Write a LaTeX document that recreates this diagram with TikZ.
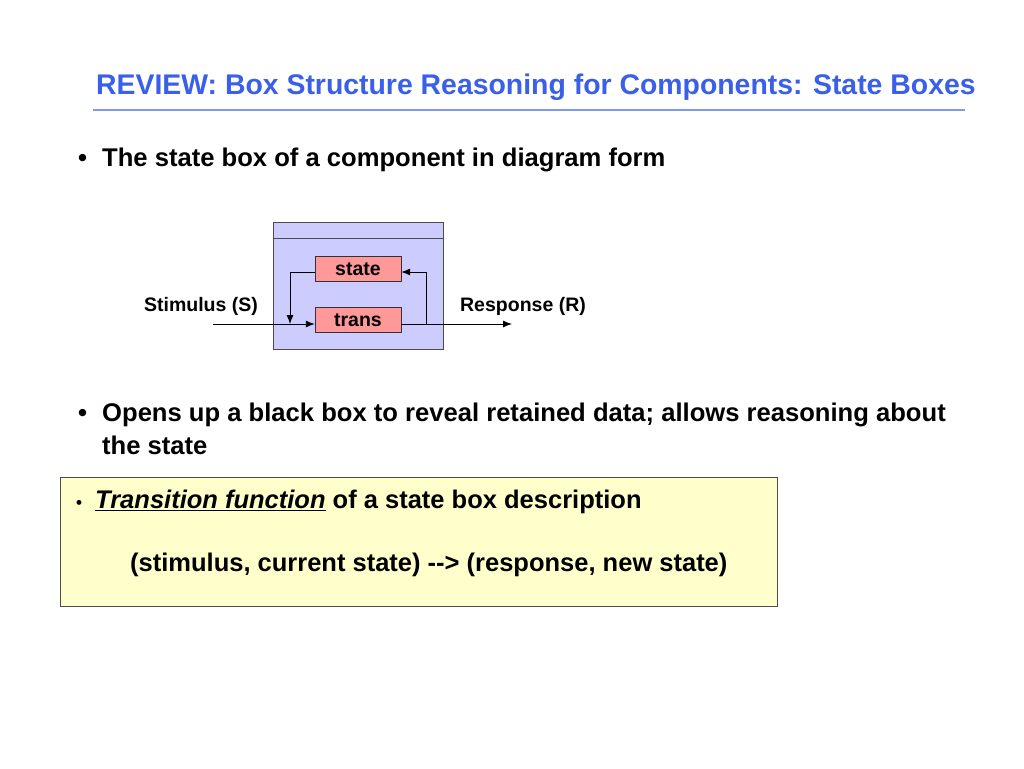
\documentclass[tikz,border=0pt]{standalone}
\usepackage{fontspec}
\setmainfont{Liberation Sans}
\usepackage{tikz}
\usetikzlibrary{positioning,arrows.meta}

\definecolor{titleblue}{HTML}{3A5FE8}
\definecolor{ruleblue}{HTML}{7F9BF0}
\definecolor{boxlav}{HTML}{CCCCFF}
\definecolor{boxred}{HTML}{FF9999}
\definecolor{noteyel}{HTML}{FFFFCC}

\begin{document}
\begin{tikzpicture}[x=1pt,y=-1pt,
	redbox/.style={draw=black!80, fill=boxred, minimum width=86pt, minimum height=25pt, inner sep=0pt, font=\bfseries\fontsize{19.5}{22}\selectfont},
	lbl/.style={font=\bfseries\fontsize{19.5}{22}\selectfont},
	bullet/.style={anchor=west, font=\bfseries\fontsize{25.6}{30}\selectfont, align=left},
	flow/.style={line width=0.9pt, -{Latex[length=9pt,width=7pt]}}]
	
	\useasboundingbox[fill=white] (0,0) rectangle (1024,768);
	
	\node[anchor=west, inner sep=0pt, text=titleblue, font=\bfseries\fontsize{28.4}{30}\selectfont] (title) at (96,87) {REVIEW: Box Structure Reasoning for Components: State Boxes};
	\draw[ruleblue, line width=1.2pt] (93,110) -- (965,110);
	
	\node[bullet, inner sep=0pt] (d1) at (78,160) {\textbullet};
	\node[bullet, inner sep=0pt] (b1) at (102,160) {The state box of a component in diagram form};
	
	\node[draw=black!70, fill=boxlav, minimum width=170pt, minimum height=127pt, inner sep=0pt] (box) at (358,285.5) {};
	\draw[black!70] ([yshift=-16pt]box.north west) -- ([yshift=-16pt]box.north east);
	\node[redbox] (state) at (358,269) {state};
	\node[redbox] (trans) at (358,320) {trans};
	
	\coordinate (in) at (213,324);
	\coordinate (out) at (512,324);
	\coordinate (fb) at (290,272);
	\coordinate (br) at (426,324);
	\draw[flow] (in) -- ([yshift=-4pt]trans.west);
	\draw[flow] ([yshift=-3pt]state.west) -- (fb) -- (fb |- in);
	\draw[flow] ([yshift=-4pt]trans.east) -- (out);
	\draw[flow] (br) -- (br |- fb) -- ([yshift=-3pt]state.east);
	
	\node[lbl] (stim) at (201,306) {Stimulus (S)};
	\node[lbl] (resp) at (523,306) {Response (R)};
	
	\node[bullet, inner sep=0pt] (d2) at (78,415) {\textbullet};
	\node[bullet, inner sep=0pt] (b2) at (102,415) {Opens up a black box to reveal retained data; allows reasoning about};
	\node[bullet, inner sep=0pt] (b3) at (102,445) {the state};
	
	\node[draw=black!70, fill=noteyel, minimum width=717pt, minimum height=129pt, inner sep=0pt] (note) at (418.5,541.5) {};
	\node[anchor=west, inner sep=0pt, font=\bfseries\fontsize{17}{20}\selectfont] (d3) at (76,504) {\textbullet};
	\node[anchor=west, inner sep=0pt, font=\bfseries\fontsize{25.5}{28}\selectfont] (tf) at (95,502) {\underline{\itshape Transition function} of a state box description};
	\node[anchor=west, inner sep=0pt, font=\bfseries\fontsize{25.5}{28}\selectfont] (map) at (130,565) {(stimulus, current state) -{}-> (response, new state)};
	
\end{tikzpicture}
\end{document}
